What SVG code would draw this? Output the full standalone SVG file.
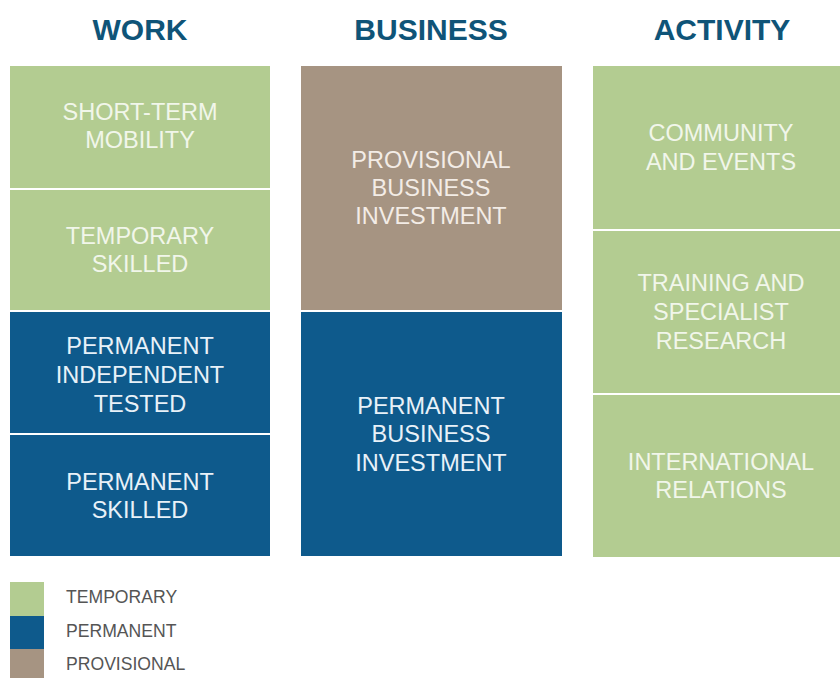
<svg xmlns="http://www.w3.org/2000/svg" width="840" height="678" viewBox="0 0 840 678">
<style>
.h{font-family:"Liberation Sans",Arial,sans-serif;font-weight:bold;font-size:30px;fill:#0f5478;text-anchor:middle}
.t{font-family:"Liberation Sans",Arial,sans-serif;font-size:23.5px;text-anchor:middle}
.tg{fill:#f1f6ea}
.tb{fill:#e8f1f8}
.tp{fill:#f3ece6}
.g{fill:#b3cc91}
.b{fill:#0e5a8c}
.p{fill:#a69482}
.l{font-family:"Liberation Sans",Arial,sans-serif;font-size:17.6px;fill:#555}
</style>
<rect width="840" height="678" fill="#ffffff"/>
<g id="headings">
<text class="h" x="140" y="40">WORK</text>
<text class="h" x="431" y="40">BUSINESS</text>
<text class="h" x="722" y="40">ACTIVITY</text>
</g>
<g id="short-term-mobility">
<rect class="g" x="10" y="66" width="260" height="122"/>
<text class="t tg" x="140" y="120">SHORT-TERM</text>
<text class="t tg" x="140" y="148">MOBILITY</text>
</g>
<g id="temporary-skilled">
<rect class="g" x="10" y="190" width="260" height="120"/>
<text class="t tg" x="140" y="244">TEMPORARY</text>
<text class="t tg" x="140" y="272">SKILLED</text>
</g>
<g id="permanent-independent-tested">
<rect class="b" x="10" y="312" width="260" height="121"/>
<text class="t tb" x="140" y="354">PERMANENT</text>
<text class="t tb" x="140" y="383">INDEPENDENT</text>
<text class="t tb" x="140" y="412">TESTED</text>
</g>
<g id="permanent-skilled">
<rect class="b" x="10" y="435" width="260" height="121"/>
<text class="t tb" x="140" y="490">PERMANENT</text>
<text class="t tb" x="140" y="518">SKILLED</text>
</g>
<g id="provisional-business-investment">
<rect class="p" x="301" y="66" width="261" height="244"/>
<text class="t tp" x="431" y="168">PROVISIONAL</text>
<text class="t tp" x="431" y="196">BUSINESS</text>
<text class="t tp" x="431" y="224">INVESTMENT</text>
</g>
<g id="permanent-business-investment">
<rect class="b" x="301" y="312" width="261" height="244"/>
<text class="t tb" x="431" y="414">PERMANENT</text>
<text class="t tb" x="431" y="442">BUSINESS</text>
<text class="t tb" x="431" y="471">INVESTMENT</text>
</g>
<g id="community-and-events">
<rect class="g" x="593" y="66" width="247" height="163"/>
<text class="t tg" x="721" y="141">COMMUNITY</text>
<text class="t tg" x="721" y="170">AND EVENTS</text>
</g>
<g id="training-and-specialist-research">
<rect class="g" x="593" y="231" width="247" height="162"/>
<text class="t tg" x="721" y="291">TRAINING AND</text>
<text class="t tg" x="721" y="320">SPECIALIST</text>
<text class="t tg" x="721" y="349">RESEARCH</text>
</g>
<g id="international-relations">
<rect class="g" x="593" y="395" width="247" height="162"/>
<text class="t tg" x="721" y="470">INTERNATIONAL</text>
<text class="t tg" x="721" y="498">RELATIONS</text>
</g>
<g id="legend">
<rect class="g" x="10" y="582" width="34" height="34"/>
<rect class="b" x="10" y="616" width="34" height="33"/>
<rect class="p" x="10" y="649" width="34" height="29"/>
<text class="l" x="66" y="603">TEMPORARY</text>
<text class="l" x="66" y="637">PERMANENT</text>
<text class="l" x="66" y="670">PROVISIONAL</text>
</g>
<g id="connectors"/>
</svg>
